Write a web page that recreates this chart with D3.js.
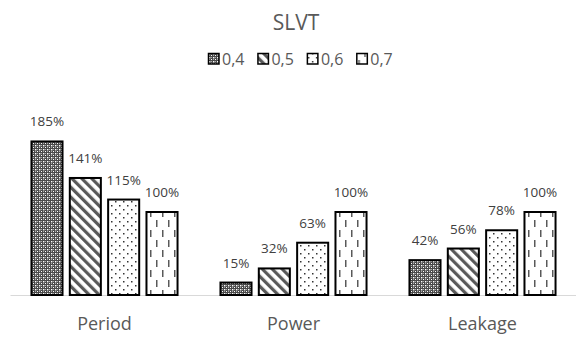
<!DOCTYPE html>
<html>
<head>
<meta charset="utf-8">
<script src="https://cdn.jsdelivr.net/npm/d3@7"></script>
<style>
  body { margin: 0; background: #fff; }
  text { font-family: "Open Sans", sans-serif; }
</style>
</head>
<body>
<svg id="chart" width="576" height="338"></svg>
<script>
// Dữ liệu
const categories = ["Period", "Power", "Leakage"];
const series = ["0,4", "0,5", "0,6", "0,7"];
const values = [
  [185, 141, 115, 100], // Period
  [15, 32, 63, 100],    // Power
  [42, 56, 78, 100]     // Leakage
];
const chartTitle = "SLVT";

const svg = d3.select("#chart");

// Mẫu tô (pattern)
const defs = svg.append("defs");

// 0,4 : lưới chấm nhỏ
const p1 = defs.append("pattern").attr("id", "pat0")
  .attr("patternUnits", "userSpaceOnUse").attr("width", 4).attr("height", 4);
p1.append("rect").attr("width", 4).attr("height", 4).attr("fill", "#4a4a4a");
p1.append("rect").attr("x", 1).attr("y", 1).attr("width", 1.4).attr("height", 1.4).attr("fill", "#fff");
p1.append("rect").attr("x", 3).attr("y", 3).attr("width", 1.4).attr("height", 1.4).attr("fill", "#fff");
p1.append("rect").attr("x", 3).attr("y", 1).attr("width", 1).attr("height", 1).attr("fill", "#aaa");
p1.append("rect").attr("x", 1).attr("y", 3).attr("width", 1).attr("height", 1).attr("fill", "#aaa");

// 0,5 : sọc chéo rộng
const p2 = defs.append("pattern").attr("id", "pat1")
  .attr("patternUnits", "userSpaceOnUse").attr("width", 7).attr("height", 7)
  .attr("patternTransform", "rotate(-45)");
p2.append("rect").attr("width", 7).attr("height", 7).attr("fill", "#fff");
p2.append("rect").attr("width", 3.2).attr("height", 7).attr("fill", "#595959");

// 0,6 : chấm thưa
const p3 = defs.append("pattern").attr("id", "pat2")
  .attr("patternUnits", "userSpaceOnUse").attr("width", 8).attr("height", 8);
p3.append("rect").attr("width", 8).attr("height", 8).attr("fill", "#fff");
p3.append("rect").attr("x", 1).attr("y", 1).attr("width", 1.5).attr("height", 1.5).attr("fill", "#333");
p3.append("rect").attr("x", 5).attr("y", 5).attr("width", 1.5).attr("height", 1.5).attr("fill", "#333");

// 0,7 : gạch đứt dọc
const p4 = defs.append("pattern").attr("id", "pat3")
  .attr("patternUnits", "userSpaceOnUse").attr("width", 12).attr("height", 20);
p4.append("rect").attr("width", 12).attr("height", 20).attr("fill", "#fff");
p4.append("rect").attr("x", 2).attr("y", 0).attr("width", 1.5).attr("height", 7).attr("fill", "#595959");
p4.append("rect").attr("x", 8).attr("y", 10).attr("width", 1.5).attr("height", 7).attr("fill", "#595959");

const fills = series.map((s, i) => `url(#pat${i})`);

// Thang đo
const baseY = 295;
const x0 = d3.scaleBand().domain(categories).range([10, 577]).padding(0);
const x1 = d3.scaleBand().domain(series).range([0, x0.bandwidth()])
  .paddingInner(0.19).paddingOuter(0.56);
const y = d3.scaleLinear().domain([0, 200]).range([baseY, baseY - 166]);

// Trục X
const ax = svg.append("g")
  .attr("transform", `translate(0,${baseY})`)
  .call(d3.axisBottom(x0).tickSize(0).tickSizeOuter(0));
ax.select(".domain").attr("stroke", "#d9d9d9").attr("stroke-width", 1);
ax.selectAll("text")
  .attr("y", 35).attr("dy", 0)
  .style("font-family", "'Open Sans', sans-serif")
  .style("font-size", "18px")
  .attr("fill", "#595959");

// Vẽ cột
const groups = svg.selectAll("g.grp")
  .data(categories)
  .enter().append("g")
  .attr("class", "grp")
  .attr("transform", d => `translate(${x0(d)},0)`);

groups.selectAll("rect")
  .data((c, ci) => series.map((s, si) => ({ s, si, v: values[ci][si] })))
  .enter().append("rect")
  .attr("x", d => x1(d.s))
  .attr("y", d => y(d.v))
  .attr("width", x1.bandwidth())
  .attr("height", d => baseY - y(d.v))
  .attr("fill", d => fills[d.si])
  .attr("stroke", "#000")
  .attr("stroke-width", 2);

// Nhãn trên cột
groups.selectAll("text.value")
  .data((c, ci) => series.map((s, si) => ({ s, si, v: values[ci][si] })))
  .enter().append("text")
  .attr("class", "value")
  .attr("x", d => x1(d.s) + x1.bandwidth() / 2)
  .attr("y", d => y(d.v) - 15)
  .attr("text-anchor", "middle")
  .style("font-size", "13.5px")
  .attr("fill", "#404040")
  .text(d => d.v + "%");

// Tiêu đề
svg.append("text")
  .attr("x", 296)
  .attr("y", 30)
  .attr("text-anchor", "middle")
  .style("font-size", "21px")
  .attr("fill", "#595959")
  .text(chartTitle);

// Chú giải
const leg = svg.append("g");
let lx = 0;
series.forEach((s, i) => {
  const it = leg.append("g").attr("transform", `translate(${lx},0)`);
  it.append("rect").attr("x", 0.5).attr("y", 53.5).attr("width", 10.5).attr("height", 10.5)
    .attr("fill", fills[i]).attr("stroke", "#000").attr("stroke-width", 1.5);
  const t = it.append("text").attr("x", 14).attr("y", 64.5)
    .style("font-size", "16px").attr("fill", "#595959").text(s);
  lx += 14 + t.node().getComputedTextLength() + 13;
});
const lw = lx - 13;
leg.attr("transform", `translate(${Math.round(300 - lw / 2)},0)`);
</script>
</body>
</html>
